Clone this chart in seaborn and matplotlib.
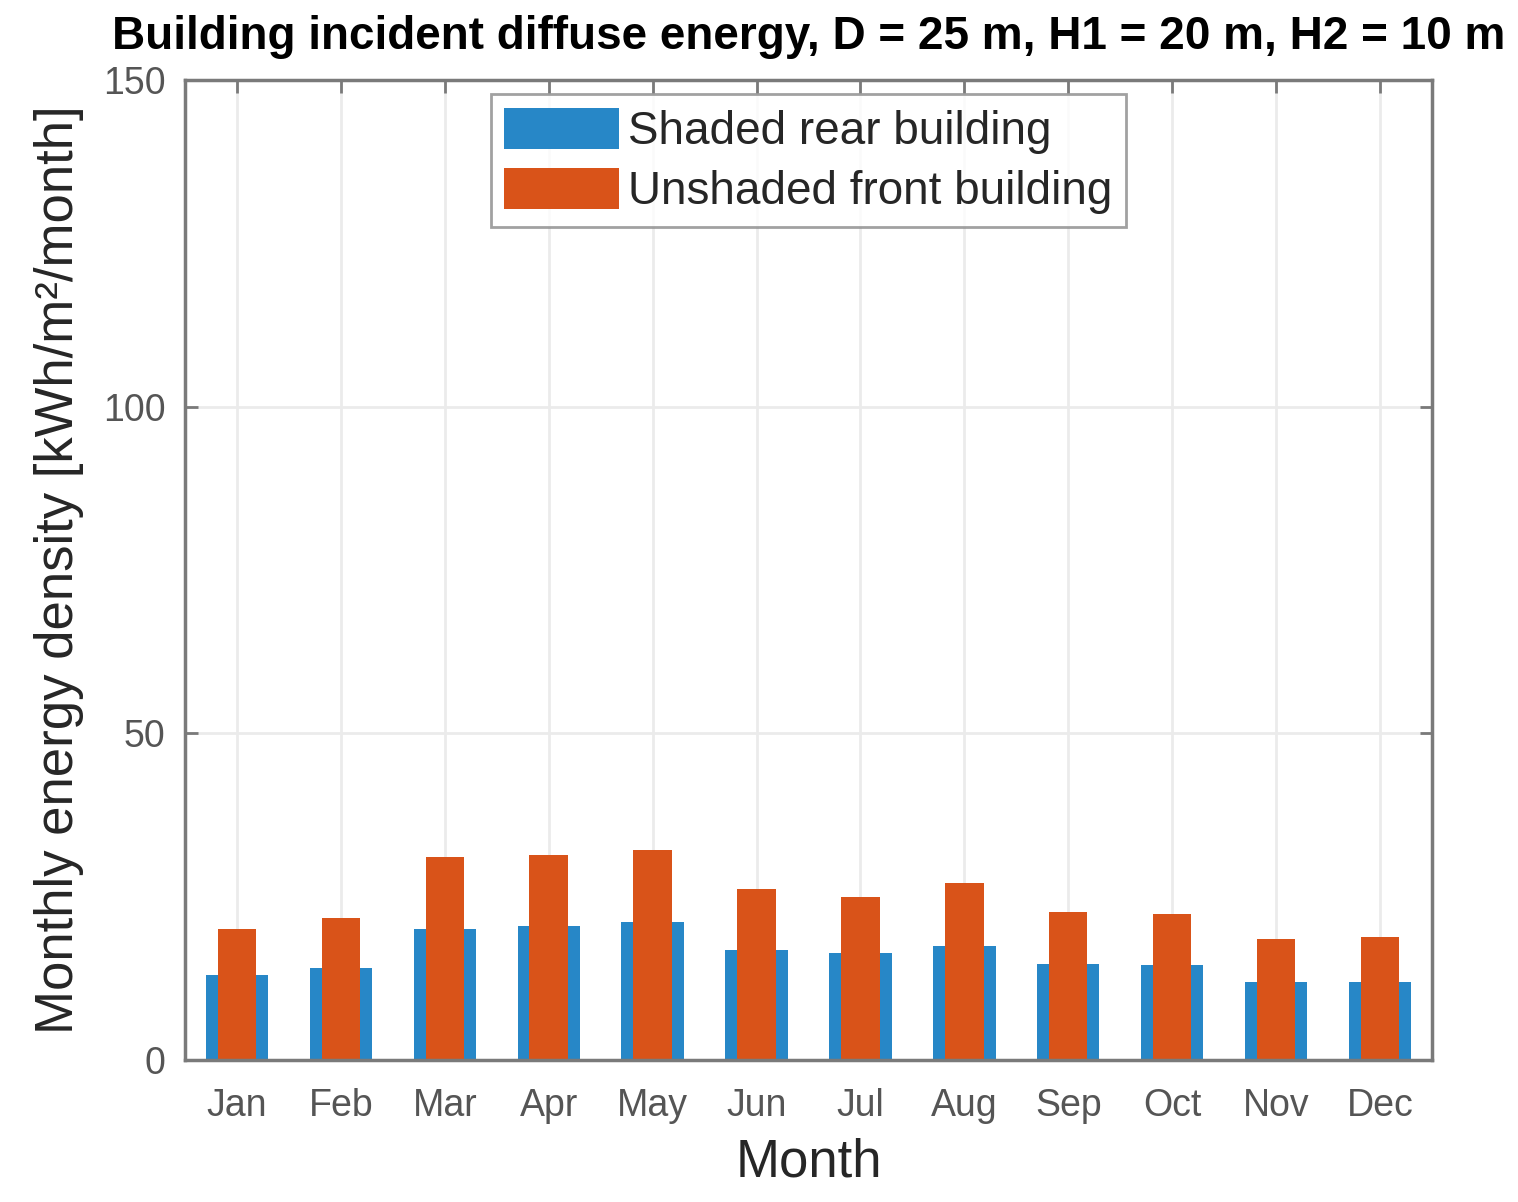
import matplotlib
matplotlib.use('Agg')
import matplotlib.pyplot as plt
import seaborn as sns
import pandas as pd

# data
months = ['Jan', 'Feb', 'Mar', 'Apr', 'May', 'Jun', 'Jul', 'Aug', 'Sep', 'Oct', 'Nov', 'Dec']
rear = [13.0, 14.1, 20.0, 20.5, 21.1, 16.8, 16.4, 17.4, 14.7, 14.5, 11.9, 11.9]
front = [20.1, 21.7, 31.1, 31.4, 32.1, 26.2, 25.0, 27.1, 22.7, 22.3, 18.5, 18.8]

df = pd.DataFrame({'Month': months, 'rear': rear, 'front': front})

sns.set_style('white')
plt.rcParams['font.family'] = ['Liberation Sans', 'DejaVu Sans']

fig = plt.figure(figsize=(15.18, 12.02), dpi=100)
ax = fig.add_axes([0.1219, 0.1181, 0.8214, 0.8153])

sns.barplot(data=df, x='Month', y='rear', color='#2787c7', width=0.6,
            saturation=1, linewidth=0, label='Shaded rear building', ax=ax)
sns.barplot(data=df, x='Month', y='front', color='#d95319', width=0.37,
            saturation=1, linewidth=0, label='Unshaded front building', ax=ax)

ax.set_xlim(-0.5, 11.5)
ax.set_ylim(0, 150)
ax.set_yticks([0, 50, 100, 150])
ax.grid(True, color='#ebebeb', linewidth=2)
ax.set_axisbelow(True)

for s in ax.spines.values():
    s.set_visible(True)
    s.set_color('#7a7a7a')
    s.set_linewidth(2.5)

ax.tick_params(direction='in', length=9, width=2, colors='#7a7a7a',
               labelcolor='#555555', labelsize=27, top=True, right=True,
               left=True, bottom=True, pad=14)
ax.tick_params(axis='x', pad=20)

ax.set_xlabel('Month', fontsize=38, color='#262626', labelpad=10)
ax.set_ylabel('Monthly energy density [kWh/m²/month]', fontsize=38,
              color='#262626', labelpad=14)
ax.set_title('Building incident diffuse energy, D = 25 m, H1 = 20 m, H2 = 10 m',
             fontsize=33, fontweight='bold', color='black', pad=22)

leg = ax.legend(loc='upper center', fontsize=33, frameon=True, fancybox=False,
                edgecolor='#8a8a8a', handlelength=2.5, handleheight=1.0,
                handletextpad=0.2, borderpad=0.3, labelspacing=0.3,
                borderaxespad=0.3)
leg.get_frame().set_linewidth(2)

fig.savefig('out.png', dpi=100)
